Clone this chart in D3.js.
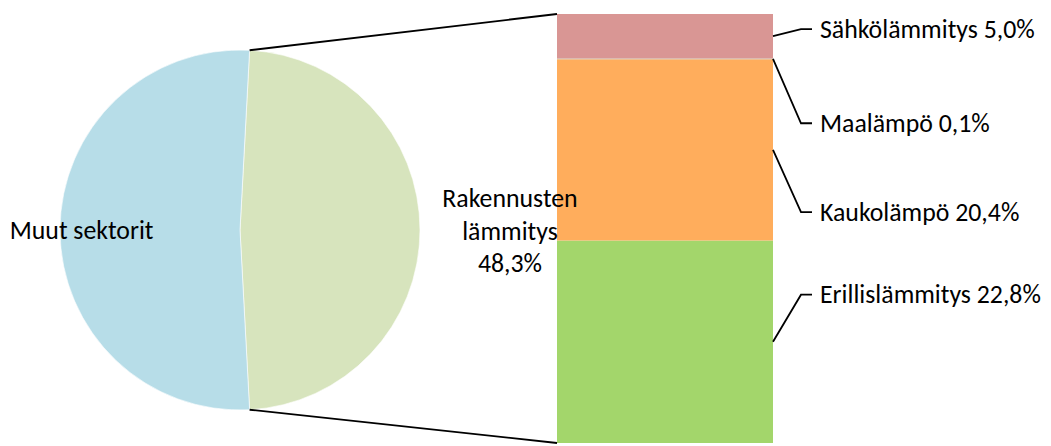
<html>
  <head>
    <script src="https://d3js.org/d3.v7.min.js"></script>
    <style>
body {
  margin: 0;
  background: #fff;
}
.lbl {
  font-family: Calibri, Carlito, "Liberation Sans", sans-serif;
  font-size: 25.8px;
  fill: #000;
}
.leader {
  stroke: #000;
  stroke-width: 1.8;
  fill: none;
}
    </style>
  </head>
  <body>
    <div id="chart"></div>
<script>
// pie: main categories
var pieNames = ["Rakennusten lämmitys", "Muut sektorit"];
var pieValues = [48.3, 51.7];
var pieColors = ["#d7e4bd", "#b7dde8"];

// bar: breakdown of "Rakennusten lämmitys", bottom to top
var barNames = ["Erillislämmitys", "Kaukolämpö", "Maalämpö", "Sähkölämmitys"];
var barValues = [22.8, 20.4, 0.1, 5.0];
var barColors = ["#a3d66b", "#ffad5c", "#c9b79a", "#d99694"];
// label heights next to the bar, in bar units
var barLabelAt = [16.7, 26.0, 36.0, 46.6];

var width = 1051;
var height = 446;
var cx = 240, cy = 230, r = 180;
var barLeft = 557, barRight = 773, barTop = 14, barBottom = 443;

var fmt = v => v.toFixed(1).replace(".", ",") + "%";

var svg = d3.select("#chart").append("svg")
  .attr("width", width)
  .attr("height", height);

/* Pie */
var share = pieValues[0] / d3.sum(pieValues);
var pie = d3.pie()
  .sort(null)
  .value(d => d)
  .startAngle(Math.PI / 2 - share * Math.PI)
  .endAngle(Math.PI / 2 - share * Math.PI + 2 * Math.PI);
var arcs = pie(pieValues);
var arc = d3.arc().innerRadius(0).outerRadius(r);

var pg = svg.append("g").attr("transform", `translate(${cx},${cy})`);
pg.selectAll("path")
  .data(arcs).enter()
  .append("path")
  .attr("d", arc)
  .attr("fill", (d, i) => pieColors[i])
  .attr("stroke", "#fff")
  .attr("stroke-width", 0.6);

/* Bar */
var yBar = d3.scaleLinear()
  .domain([0, d3.sum(barValues)])
  .range([barBottom, barTop]);
var stacked = [];
var acc = 0;
barValues.forEach(function(v, i) {
  stacked.push({name: barNames[i], value: v, y0: acc, y1: acc + v, color: barColors[i]});
  acc += v;
});
svg.append("g").selectAll("rect")
  .data(stacked).enter()
  .append("rect")
  .attr("x", barLeft)
  .attr("width", barRight - barLeft)
  .attr("y", d => yBar(d.y1))
  .attr("height", d => yBar(d.y0) - yBar(d.y1))
  .attr("fill", d => d.color);

/* Connector lines pie -> bar */
var a0 = arcs[0].startAngle, a1 = arcs[0].endAngle;
svg.append("line").attr("class", "leader")
  .attr("x1", cx + r * Math.sin(a0)).attr("y1", cy - r * Math.cos(a0))
  .attr("x2", barLeft).attr("y2", yBar(d3.sum(barValues)));
svg.append("line").attr("class", "leader")
  .attr("x1", cx + r * Math.sin(a1)).attr("y1", cy - r * Math.cos(a1))
  .attr("x2", barLeft).attr("y2", yBar(0));

/* Pie labels */
svg.append("text").attr("class", "lbl")
  .attr("x", cx - r * 0.88).attr("y", cy + 9)
  .attr("text-anchor", "middle")
  .text(pieNames[1]);
var rl = svg.append("text").attr("class", "lbl")
  .attr("text-anchor", "middle");
[pieNames[0].split(" ")[0], pieNames[0].split(" ")[1], fmt(pieValues[0])].forEach(function(t, i) {
  rl.append("tspan")
    .attr("x", cx + r * 1.5)
    .attr("y", cy - 23 + (i * 32.5))
    .text(t);
});

/* Bar labels with leaders */
stacked.forEach(function(d, i) {
  var ly = yBar(barLabelAt[i]);
  var my = yBar((d.y0 + d.y1) / 2);
  svg.append("path").attr("class", "leader")
    .attr("d", `M${barRight},${my}L${barRight + 28},${ly}L${barRight + 39},${ly}`);
  svg.append("text").attr("class", "lbl")
    .attr("x", barRight + 47)
    .attr("y", ly + 8.5)
    .text(d.name + " " + fmt(d.value));
});
</script>
  </body>
</html>
